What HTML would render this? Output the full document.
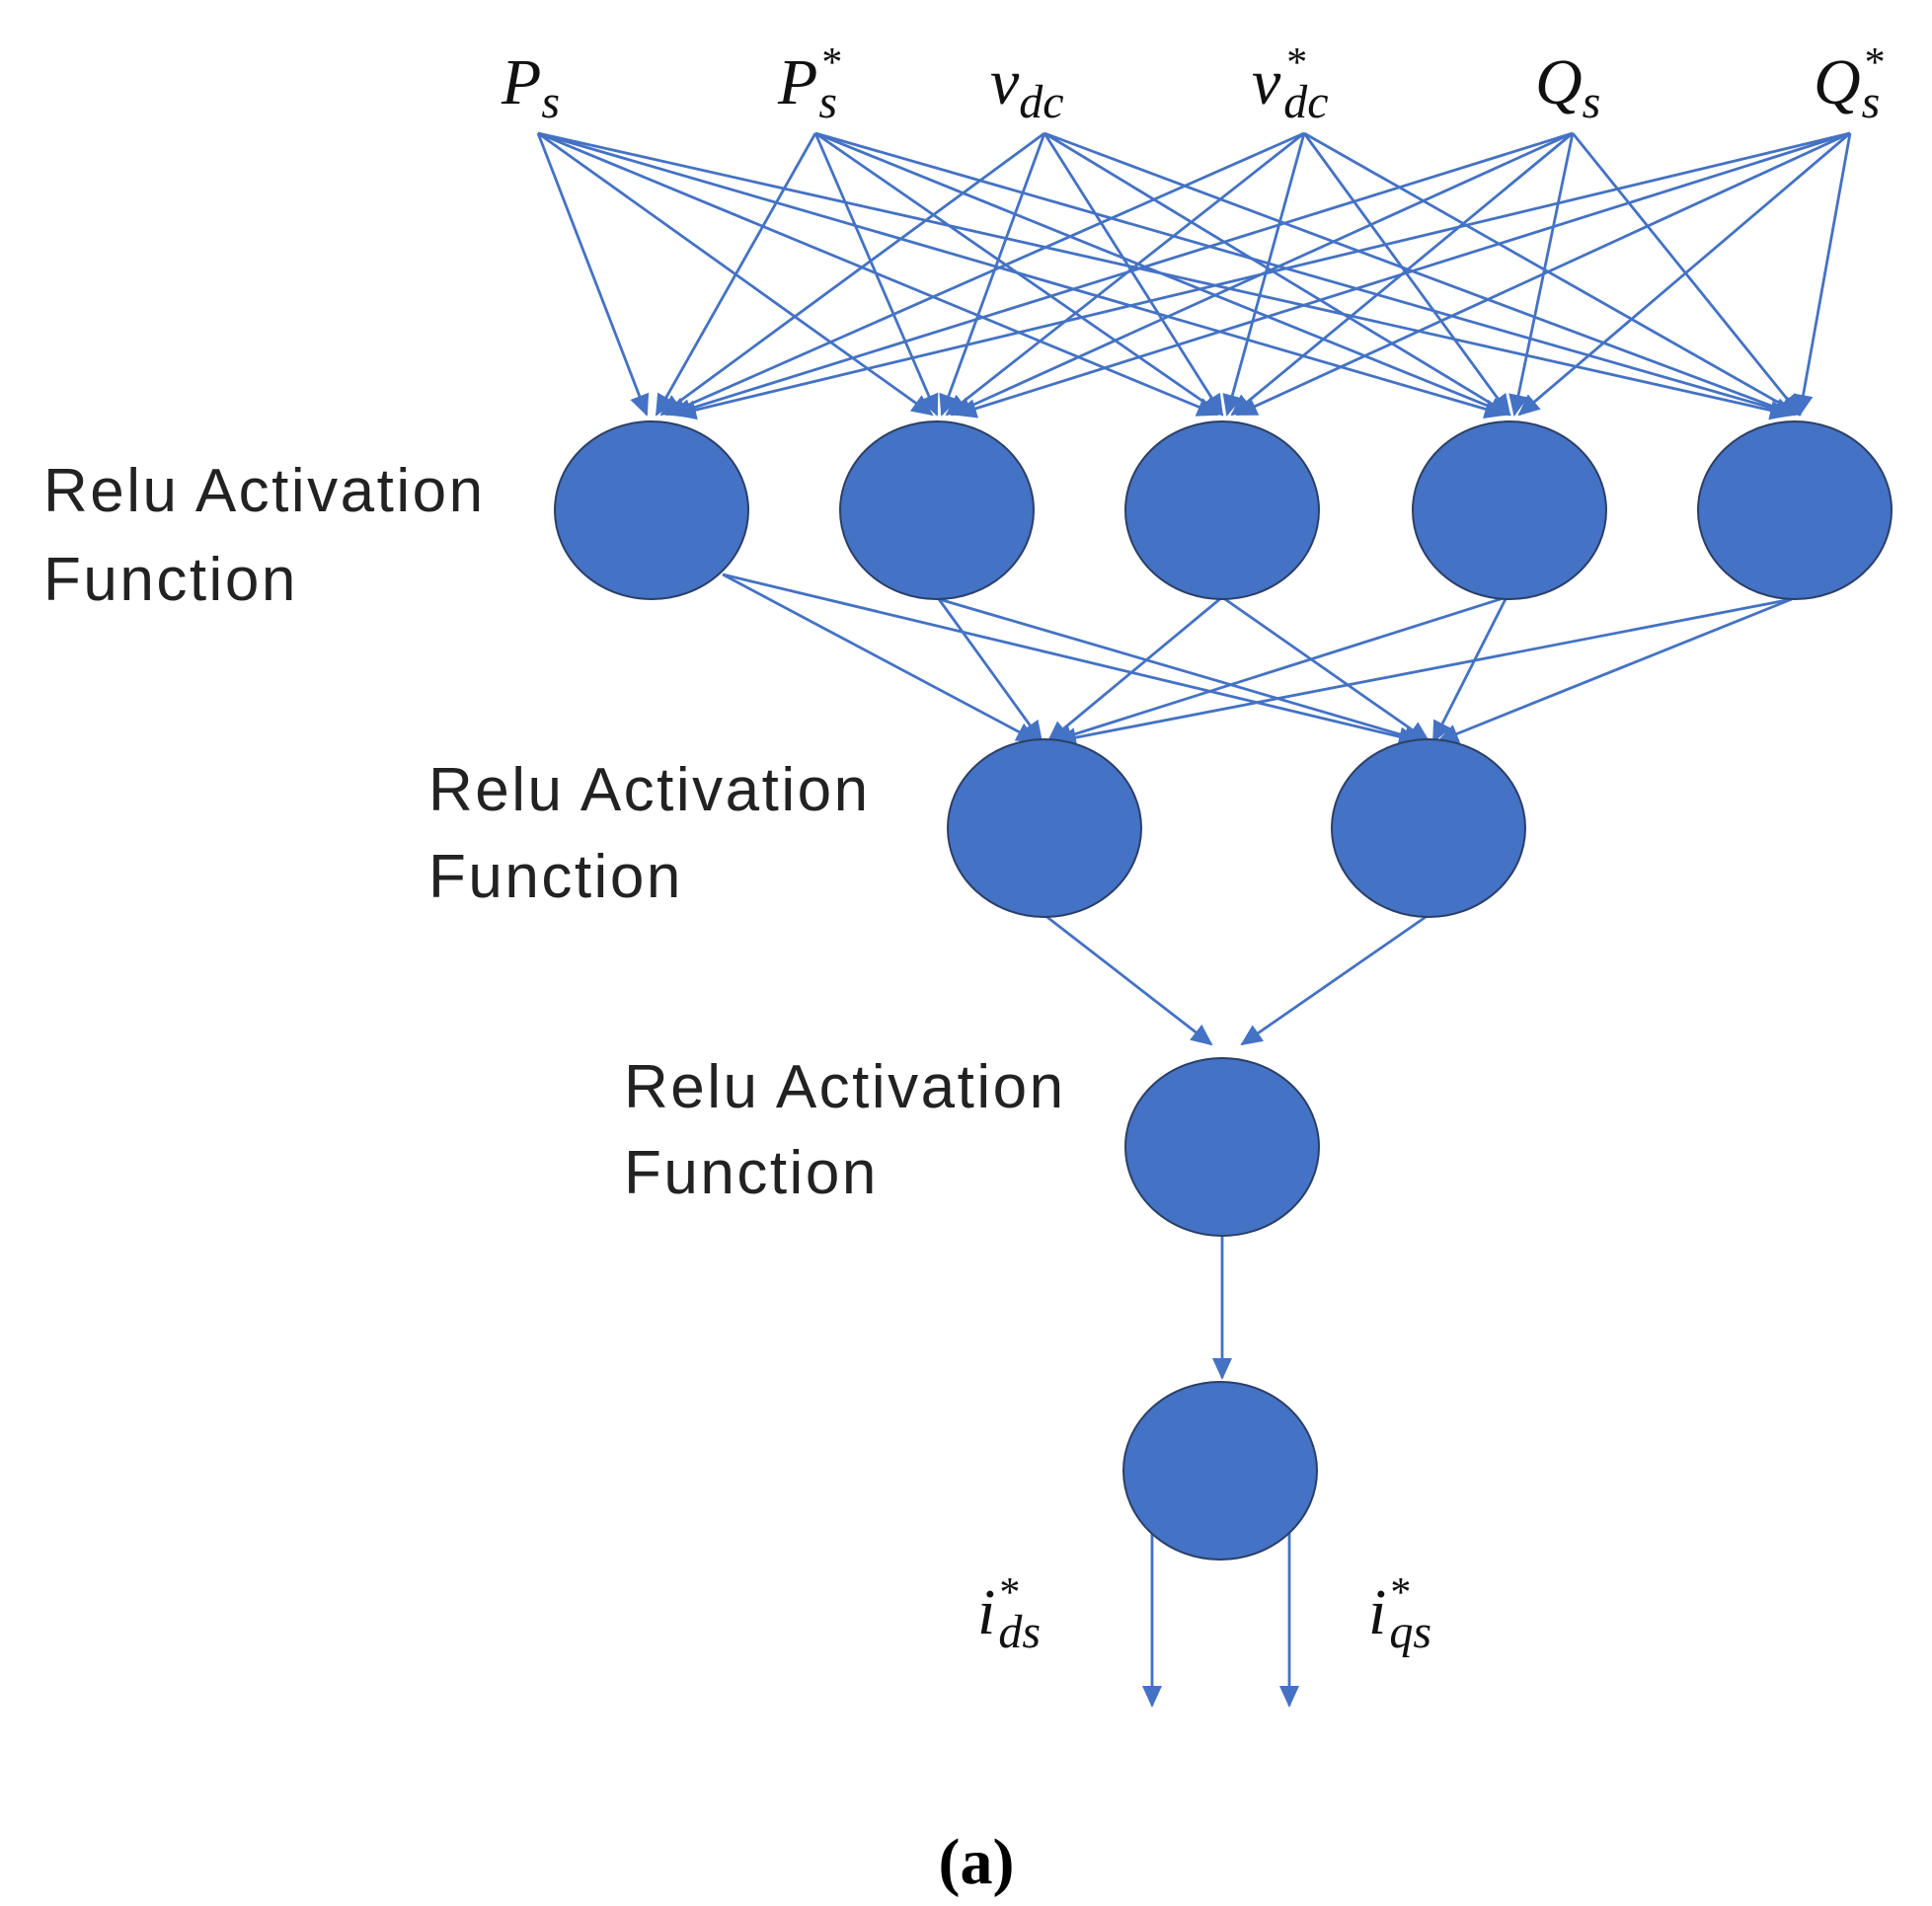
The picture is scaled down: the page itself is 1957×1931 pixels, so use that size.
<!DOCTYPE html>
<html><head><style>html,body{margin:0;padding:0;background:#fff}svg{display:block}</style></head>
<body>
<svg width="1957" height="1931" viewBox="0 0 1957 1931" xmlns="http://www.w3.org/2000/svg">
<defs>
<marker id="b" markerWidth="24" markerHeight="24" refX="20" refY="12" orient="auto" markerUnits="userSpaceOnUse" viewBox="0 0 24 24">
<path d="M0,2 L22,12 L0,22 z" fill="#4472C4"/>
</marker>
</defs>
<g stroke="#4472C4" stroke-width="2.8" fill="none" marker-end="url(#b)">
<line x1="545" y1="135" x2="655" y2="420"/><line x1="545" y1="135" x2="944" y2="420"/><line x1="545" y1="135" x2="1233" y2="420"/><line x1="545" y1="135" x2="1524" y2="420"/><line x1="545" y1="135" x2="1813" y2="420"/>
<line x1="826" y1="135" x2="665" y2="420"/><line x1="826" y1="135" x2="949" y2="420"/><line x1="826" y1="135" x2="1238" y2="420"/><line x1="826" y1="135" x2="1529" y2="420"/><line x1="826" y1="135" x2="1818" y2="420"/>
<line x1="1058" y1="135" x2="670" y2="420"/><line x1="1058" y1="135" x2="954" y2="420"/><line x1="1058" y1="135" x2="1238" y2="420"/><line x1="1058" y1="135" x2="1529" y2="420"/><line x1="1058" y1="135" x2="1818" y2="420"/>
<line x1="1321" y1="135" x2="675" y2="420"/><line x1="1321" y1="135" x2="959" y2="420"/><line x1="1321" y1="135" x2="1243" y2="420"/><line x1="1321" y1="135" x2="1529" y2="420"/><line x1="1321" y1="135" x2="1823" y2="420"/>
<line x1="1593" y1="135" x2="680" y2="420"/><line x1="1593" y1="135" x2="964" y2="420"/><line x1="1593" y1="135" x2="1248" y2="420"/><line x1="1593" y1="135" x2="1534" y2="420"/><line x1="1593" y1="135" x2="1823" y2="420"/>
<line x1="1874" y1="135" x2="685" y2="420"/><line x1="1874" y1="135" x2="969" y2="420"/><line x1="1874" y1="135" x2="1253" y2="420"/><line x1="1874" y1="135" x2="1539" y2="420"/><line x1="1874" y1="135" x2="1823" y2="420"/>
<line x1="732" y1="582" x2="1050" y2="751"/><line x1="732" y1="582" x2="1437" y2="751"/>
<line x1="951" y1="607" x2="1055" y2="751"/><line x1="951" y1="607" x2="1442" y2="751"/>
<line x1="1238" y1="605" x2="1062" y2="751"/><line x1="1238" y1="605" x2="1447" y2="751"/>
<line x1="1526" y1="605" x2="1066" y2="751"/><line x1="1526" y1="605" x2="1452" y2="751"/>
<line x1="1815" y1="607" x2="1070" y2="751"/><line x1="1815" y1="607" x2="1457" y2="751"/>
<line x1="1058" y1="927" x2="1227" y2="1058"/><line x1="1447" y1="927" x2="1258" y2="1058"/>
<line x1="1238" y1="1252" x2="1238" y2="1396"/>
<line x1="1167" y1="1540" x2="1167" y2="1728"/><line x1="1306" y1="1540" x2="1306" y2="1728"/>
</g>
<g fill="#4472C4" stroke="#2b3f66" stroke-width="2">
<ellipse cx="660" cy="517" rx="98" ry="90"/><ellipse cx="949" cy="517" rx="98" ry="90"/><ellipse cx="1238" cy="517" rx="98" ry="90"/><ellipse cx="1529" cy="517" rx="98" ry="90"/><ellipse cx="1818" cy="517" rx="98" ry="90"/>
<ellipse cx="1058" cy="839" rx="98" ry="90"/><ellipse cx="1447" cy="839" rx="98" ry="90"/>
<ellipse cx="1238" cy="1162" rx="98" ry="90"/>
<ellipse cx="1236" cy="1490" rx="98" ry="90"/>
</g>
<g font-family="Liberation Sans, sans-serif" font-size="62" fill="#222" letter-spacing="2.5">
<text x="44" y="518">Relu Activation</text><text x="44" y="608">Function</text>
<text x="434" y="821">Relu Activation</text><text x="434" y="909">Function</text>
<text x="632" y="1122">Relu Activation</text><text x="632" y="1209">Function</text>
</g>
<g font-family="Liberation Serif, serif" font-style="italic" font-size="66" fill="#111">
<text x="508" y="105">P<tspan font-size="48" dy="14">s</tspan></text>
<text x="788" y="105">P<tspan font-size="42" dx="2" dy="-28">*</tspan><tspan font-size="48" dx="-22" dy="42">s</tspan></text>
<text x="1003" y="105">v<tspan font-size="48" dy="14">dc</tspan></text>
<text x="1268" y="105">v<tspan font-size="42" dx="4" dy="-28">*</tspan><tspan font-size="48" dx="-22" dy="42">dc</tspan></text>
<text x="1555" y="105">Q<tspan font-size="48" dy="14">s</tspan></text>
<text x="1837" y="105">Q<tspan font-size="42" dx="2" dy="-28">*</tspan><tspan font-size="48" dx="-22" dy="42">s</tspan></text>
<text x="990" y="1655">i<tspan font-size="42" dx="2" dy="-28">*</tspan><tspan font-size="48" dx="-20" dy="42">ds</tspan></text>
<text x="1386" y="1655">i<tspan font-size="42" dx="2" dy="-28">*</tspan><tspan font-size="48" dx="-20" dy="42">qs</tspan></text>
</g>
<text x="989" y="1908" text-anchor="middle" font-family="Liberation Serif, serif" font-weight="bold" font-size="66" fill="#000">(a)</text>
</svg>
</body></html>
